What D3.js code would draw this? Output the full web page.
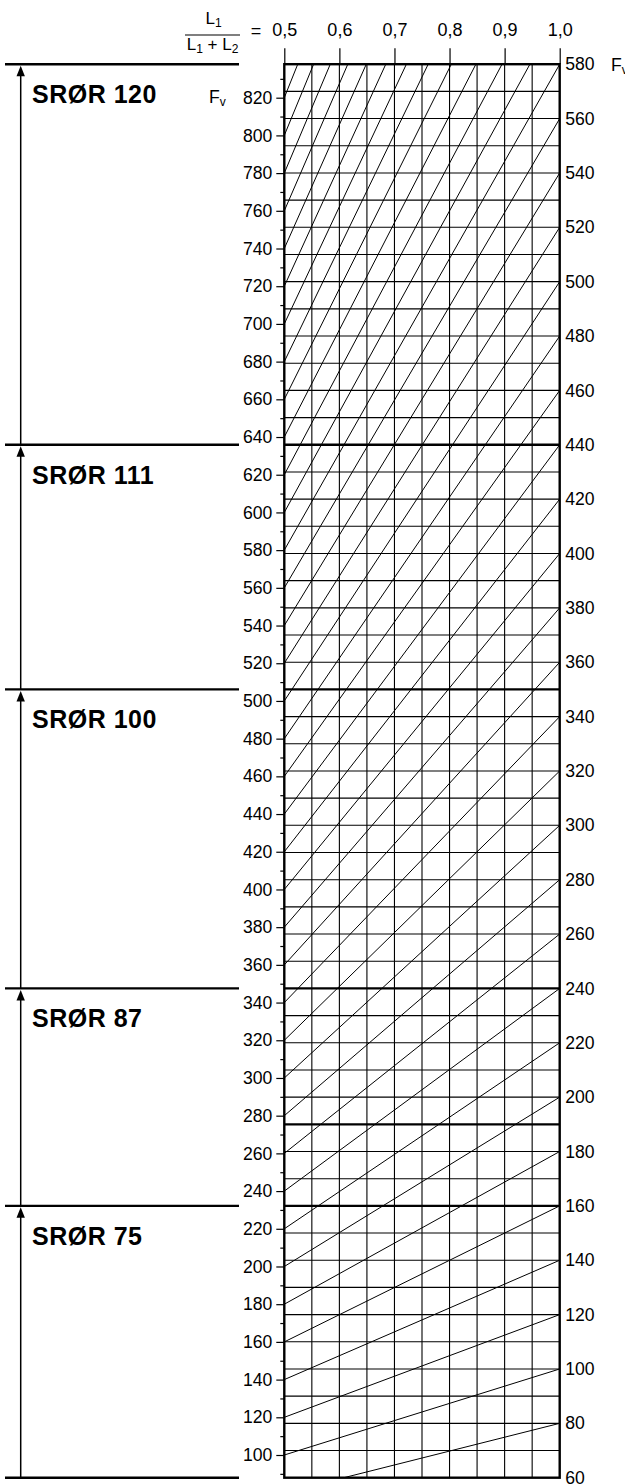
<!DOCTYPE html>
<html>
<head>
<meta charset="utf-8">
<script src="https://cdn.jsdelivr.net/npm/d3@7"></script>
<style>
  html, body { margin: 0; padding: 0; background: #fff; }
  svg { display: block; }
  text { font-family: "Liberation Sans", Arial, Helvetica, sans-serif; fill: #000; }
</style>
</head>
<body>
<svg id="chart" width="625" height="1484"></svg>
<script>
// ---------- data ----------
const ratioTicks = [0.5, 0.6, 0.7, 0.8, 0.9, 1.0];
const ratioLabels = ["0,5", "0,6", "0,7", "0,8", "0,9", "1,0"];
const leftLabels = [100, 120, 140, 160, 180, 200, 220, 240, 260, 280, 300, 320, 340, 360, 380, 400,
  420, 440, 460, 480, 500, 520, 540, 560, 580, 600, 620, 640, 660, 680, 700, 720, 740, 760, 780, 800, 820];
const rightLabels = [60, 80, 100, 120, 140, 160, 180, 200, 220, 240, 260, 280, 300, 320, 340, 360,
  380, 400, 420, 440, 460, 480, 500, 520, 540, 560, 580];
const diagonalValues = [80, 100, 120, 140, 160, 180, 200, 220, 240, 260, 280, 300, 320, 340, 360, 380,
  400, 420, 440, 460, 480, 500, 520, 540, 560, 580, 600, 620, 640, 660, 680, 700, 720, 740, 760, 780, 800, 820];
const sectionNames = ["SRØR 120", "SRØR 111", "SRØR 100", "SRØR 87", "SRØR 75"];
const sectionTops = [580, 440, 350, 240, 160];      // right-scale values
const sectionBottoms = [440, 350, 240, 160, 60];
const extraThickLines = [190];

// ---------- scales ----------
const svg = d3.select("#chart");
const x = d3.scaleLinear().domain([0.5, 1.0]).range([284.3, 559.7]);
const yR = d3.scaleLinear().domain([60, 580]).range([1477.7, 64.2]);
const yL = d3.scaleLinear().domain([100, 820]).range([1455, 97.7]);

const x0 = x(0.5), x1 = x(1.0), yTop = yR(580), yBot = yR(60);
const labelFont = "17.6px";

// clip
svg.append("defs").append("clipPath").attr("id", "plotclip")
  .append("rect").attr("x", x0).attr("y", yTop).attr("width", x1 - x0).attr("height", yBot - yTop);

// horizontal grid (every 10 on right scale)
const hGrid = d3.range(70, 580, 10);
const thickSet = new Set(sectionTops.concat(extraThickLines));
svg.append("g").selectAll("line").data(hGrid).join("line")
  .attr("x1", x0).attr("x2", x1)
  .attr("y1", d => yR(d)).attr("y2", d => yR(d))
  .attr("stroke", "#000")
  .attr("stroke-width", d => thickSet.has(d) ? 2.4 : 1.1);

// vertical grid (every 0.05)
const vGrid = d3.range(0.55, 0.99, 0.05);
svg.append("g").selectAll("line").data(vGrid).join("line")
  .attr("x1", d => x(d)).attr("x2", d => x(d))
  .attr("y1", yTop).attr("y2", yBot)
  .attr("stroke", "#000").attr("stroke-width", 1.1);

// diagonal lines
const line = d3.line().x(d => x(d[0])).y(d => d[1]);
svg.append("g").attr("clip-path", "url(#plotclip)")
  .selectAll("path").data(diagonalValues).join("path")
  .attr("d", v => line([[0.5, yL(v)], [1.0, yR(v)]]))
  .attr("fill", "none").attr("stroke", "#000").attr("stroke-width", 1);

// frame
svg.append("rect").attr("x", x0).attr("y", yTop).attr("width", x1 - x0).attr("height", yBot - yTop)
  .attr("fill", "none").attr("stroke", "#000").attr("stroke-width", 2.4);

// left axis (major + minor)
const leftMinor = d3.range(90, 840, 10).filter(v => v % 20 !== 0);
const gLm = svg.append("g").attr("transform", `translate(${x0},0)`)
  .call(d3.axisLeft(yL).tickValues(leftMinor).tickSize(4).tickFormat(""));
const gL = svg.append("g").attr("transform", `translate(${x0},0)`)
  .call(d3.axisLeft(yL).tickValues(leftLabels).tickSize(8).tickPadding(4).tickFormat(d => d));
[gLm, gL].forEach(g => { g.select(".domain").remove(); g.selectAll("line").attr("stroke", "#000").attr("stroke-width", 1.2); });
gL.selectAll("text").style("font-size", labelFont).style("font-family", "Liberation Sans, Arial, sans-serif").attr("fill", "#000");

// right axis
const gR = svg.append("g").attr("transform", `translate(${x1},0)`)
  .call(d3.axisRight(yR).tickValues(rightLabels).tickSize(0).tickPadding(5.5).tickFormat(d => d));
gR.select(".domain").remove();
gR.selectAll("text").style("font-size", labelFont).style("font-family", "Liberation Sans, Arial, sans-serif").attr("fill", "#000");

// top axis
const gT = svg.append("g").attr("transform", `translate(0,${yTop})`)
  .call(d3.axisTop(x).tickValues(ratioTicks).tickSize(16).tickPadding(12).tickFormat((d, i) => ratioLabels[i]));
gT.select(".domain").remove();
gT.selectAll("line").attr("stroke", "#000").attr("stroke-width", 1.2);
gT.selectAll("text").style("font-size", "18px").style("font-family", "Liberation Sans, Arial, sans-serif").attr("fill", "#000");

// fraction label
const frac = svg.append("g");
const num = frac.append("text").attr("x", 213.5).attr("y", 24).attr("text-anchor", "middle").style("font-size", "17px");
num.append("tspan").text("L");
num.append("tspan").text("1").style("font-size", "12px").attr("dy", 3);
frac.append("line").attr("x1", 185).attr("x2", 240).attr("y1", 35).attr("y2", 35).attr("stroke", "#000").attr("stroke-width", 1.2);
const den = frac.append("text").attr("x", 212.5).attr("y", 50).attr("text-anchor", "middle").style("font-size", "17px");
den.append("tspan").text("L");
den.append("tspan").text("1").style("font-size", "12px").attr("dy", 3);
den.append("tspan").text(" + L").attr("dy", -3);
den.append("tspan").text("2").style("font-size", "12px").attr("dy", 3);
frac.append("text").attr("x", 256).attr("y", 36.5).attr("text-anchor", "middle").style("font-size", "18px").text("=");

// Fv labels
function fv(xp, yp) {
  const t = svg.append("text").attr("x", xp).attr("y", yp).style("font-size", labelFont);
  t.append("tspan").text("F");
  t.append("tspan").text("v").style("font-size", "12px").attr("dy", 3);
}
fv(209, 103.3);
fv(611, 70.5);

// sections on the left
sectionNames.forEach((name, i) => {
  const top = yR(sectionTops[i]);
  const bot = yR(sectionBottoms[i]);
  svg.append("line").attr("x1", 5).attr("x2", 239).attr("y1", top).attr("y2", top)
    .attr("stroke", "#000").attr("stroke-width", 2.4);
  svg.append("line").attr("x1", 20.7).attr("x2", 20.7).attr("y1", top + 8).attr("y2", bot)
    .attr("stroke", "#000").attr("stroke-width", 1.5);
  svg.append("path")
    .attr("d", `M20.7,${top + 1.5} L16.5,${top + 12} L24.9,${top + 12} Z`)
    .attr("fill", "#000");
  svg.append("text").attr("x", 32).attr("y", top + 39)
    .style("font-size", "25px").style("font-weight", "bold").style("letter-spacing", "0.5px")
    .text(name);
});
// bottom line on the left
svg.append("line").attr("x1", 5).attr("x2", 239).attr("y1", yBot).attr("y2", yBot)
  .attr("stroke", "#000").attr("stroke-width", 2.4);
</script>
</body>
</html>
